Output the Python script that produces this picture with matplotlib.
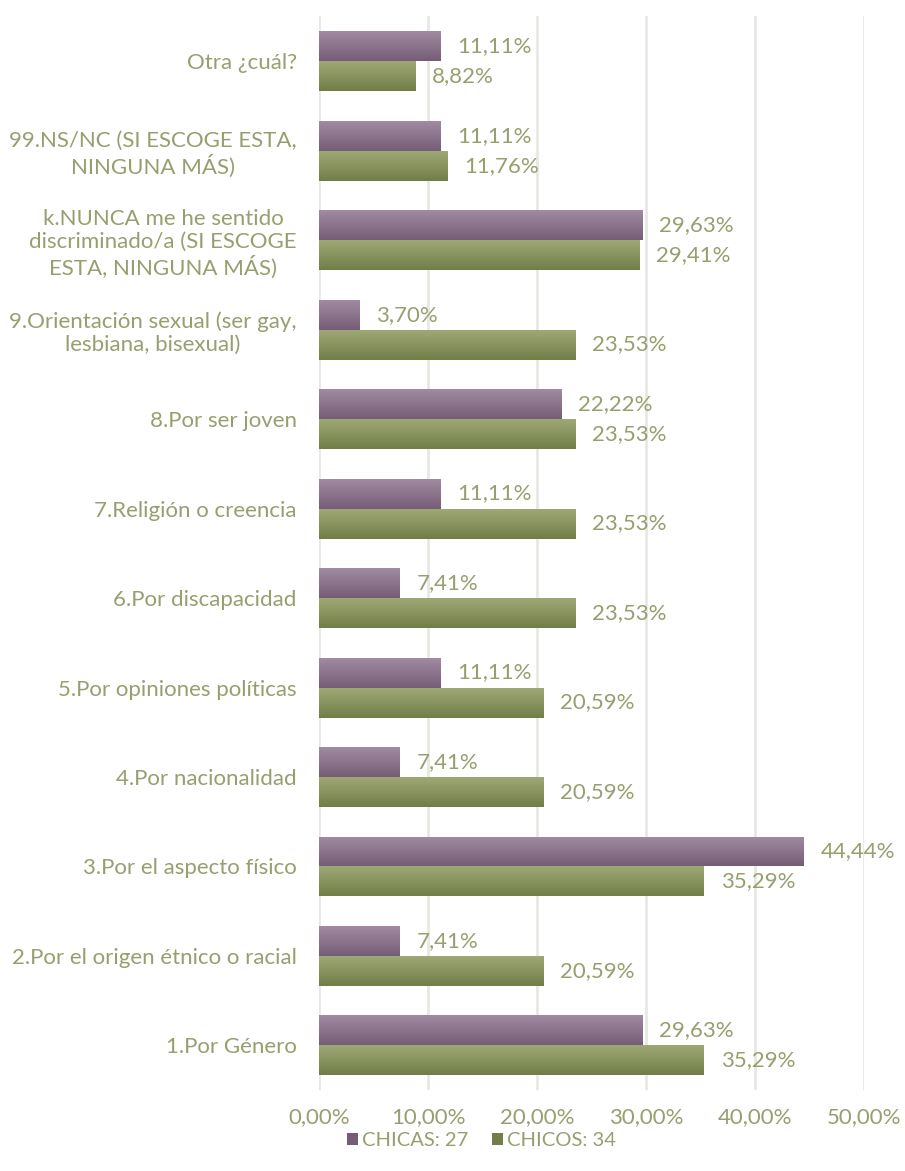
import matplotlib.pyplot as plt
import numpy as np
from matplotlib.ticker import FuncFormatter
from matplotlib.patches import Patch

categories = [
    "1.Por Género",
    "2.Por el origen étnico o racial",
    "3.Por el aspecto físico",
    "4.Por nacionalidad",
    "5.Por opiniones políticas",
    "6.Por discapacidad",
    "7.Religión o creencia",
    "8.Por ser joven",
    "9.Orientación sexual (ser gay,\nlesbiana, bisexual)",
    "k.NUNCA me he sentido\ndiscriminado/a (SI ESCOGE\nESTA, NINGUNA MÁS)",
    "99.NS/NC (SI ESCOGE ESTA,\nNINGUNA MÁS)",
    "Otra ¿cuál?",
]
chicas = [29.63, 7.41, 44.44, 7.41, 11.11, 7.41, 11.11, 22.22, 3.70, 29.63, 11.11, 11.11]
chicos = [35.29, 20.59, 35.29, 20.59, 20.59, 23.53, 23.53, 23.53, 23.53, 29.41, 11.76, 8.82]
series_names = ["CHICAS: 27", "CHICOS: 34"]

text_col = "#979f6f"
purple = ("#a08ba1", "#765d77")
green = ("#9ea874", "#727e48")

plt.rcParams['font.family'] = ['Lato', 'DejaVu Sans']

fig = plt.figure(figsize=(9.05, 11.71), dpi=100)
ax = fig.add_axes([0.3525, 0.069, 0.6025, 0.917])

y = np.arange(len(categories))
h = 0.335


def grad_bars(bars, cols):
    grad = np.linspace(0, 1, 64).reshape(-1, 1)
    cmap = plt.matplotlib.colors.LinearSegmentedColormap.from_list("g", [cols[1], cols[0]])
    for b in bars:
        x0, y0 = b.get_x(), b.get_y()
        w, hh = b.get_width(), b.get_height()
        b.set_facecolor("none")
        b.set_edgecolor("none")
        im = ax.imshow(grad, extent=[x0, x0 + w, y0, y0 + hh], aspect="auto",
                       cmap=cmap, origin="lower", zorder=2)
        im.set_clip_path(b)


b1 = ax.barh(y + h / 2, chicas, height=h, color=purple[1], zorder=2)
b2 = ax.barh(y - h / 2, chicos, height=h, color=green[1], zorder=2)
grad_bars(b1, purple)
grad_bars(b2, green)

for vals, off in ((chicas, h / 2), (chicos, -h / 2)):
    for i, v in enumerate(vals):
        ax.annotate(f"{v:.2f}%".replace(".", ","), (v, i + off), xytext=(12, 0),
                    textcoords="offset points", va="center", ha="left",
                    color=text_col, fontsize=16)

ax.set_xlim(0, 50)
ax.set_ylim(-0.5, len(categories) - 0.5)
ax.set_xticks(range(0, 51, 10))
ax.xaxis.set_major_formatter(FuncFormatter(lambda v, p: f"{v:.2f}%".replace(".", ",")))
ax.set_yticks(y)
ax.set_yticklabels(categories)
ax.tick_params(axis="y", length=0, pad=16, colors=text_col, labelsize=16)
ax.tick_params(axis="x", length=0, pad=12, colors=text_col, labelsize=16)
for lbl in ax.get_yticklabels():
    lbl.set_multialignment("center")
for s in ax.spines.values():
    s.set_visible(False)
ax.grid(axis="x", color="#e8e8e3", linewidth=2, zorder=0)
ax.set_axisbelow(True)

handles = [Patch(facecolor=purple[1]), Patch(facecolor=green[1])]
fig.legend(handles, series_names, loc="center", bbox_to_anchor=(0.532, 0.026), ncol=2,
           frameon=False, fontsize=14.5, labelcolor=text_col, handlelength=0.55,
           handleheight=0.55, handletextpad=0.2, columnspacing=1.2)

fig.savefig("out.png", dpi=100)
